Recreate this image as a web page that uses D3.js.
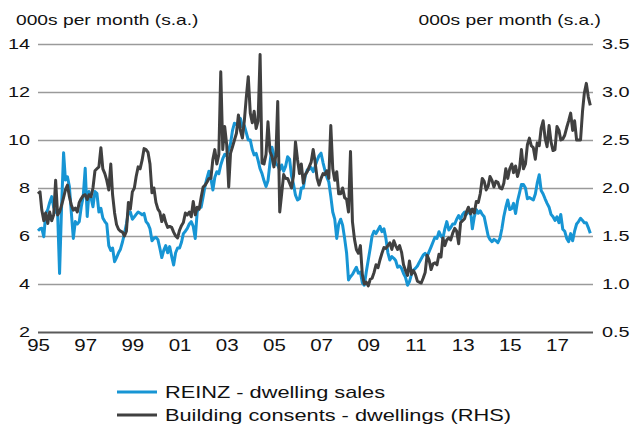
<!DOCTYPE html>
<html>
<head>
<meta charset="utf-8">
<script src="https://cdn.jsdelivr.net/npm/d3@7"></script>
<style>
  html, body { margin: 0; padding: 0; background: #fff; }
  svg { display: block; }
  text { font-family: "Liberation Sans", Arial, Helvetica, sans-serif; fill: #111; }
</style>
</head>
<body>
<script>
// Monthly series, January 1995 onward
const startYear = 1995;
const startMonth = 0;

// REINZ dwelling sales, 000s per month (s.a.), left axis
const reinzSales = [
  6.22, 6.30, 6.32, 5.97, 6.94, 7.10, 7.40, 7.64, 7.20, 7.00, 6.94, 4.44,
  7.20, 9.47, 8.33, 8.47, 8.06, 6.94, 5.90, 6.60, 6.50, 6.60, 7.22, 7.64,
  8.82, 6.81, 7.85, 7.60, 7.22, 7.85, 7.78, 7.00, 7.15, 6.75, 6.60, 6.50,
  5.60, 5.40, 5.50, 4.93, 5.10, 5.30, 5.45, 5.75, 6.10, 6.50, 7.00, 7.00,
  6.70, 6.80, 6.90, 7.00, 6.95, 6.88, 6.94, 6.60, 6.50, 6.30, 5.80, 5.90,
  5.95, 5.85, 5.50, 5.10, 5.40, 5.60, 5.30, 5.56, 5.15, 4.79, 5.30, 5.50,
  5.50, 5.75, 6.10, 6.20, 6.32, 6.50, 6.60, 6.40, 5.90, 7.00, 7.20, 7.20,
  7.64, 8.10, 8.40, 8.70, 8.40, 7.92, 8.45, 8.68, 8.60, 8.96, 9.22, 9.40,
  9.35, 9.60, 9.85, 10.40, 10.70, 10.65, 10.60, 10.90, 10.55, 10.60, 10.30, 10.00,
  10.00, 9.60, 9.38, 9.44, 9.15, 8.80, 8.60, 8.30, 8.06, 8.30, 9.03, 9.70,
  9.35, 9.00, 8.95, 8.75, 8.96, 8.70, 8.90, 9.30, 9.20, 8.50, 8.15, 7.70,
  7.50, 7.55, 8.00, 8.00, 8.50, 8.75, 8.78, 8.85, 8.68, 8.90, 9.15, 9.35,
  9.45, 9.05, 8.75, 8.45, 8.25, 7.65, 7.00, 6.70, 5.90, 6.50, 6.70, 6.45,
  5.90, 5.28, 4.17, 4.30, 4.40, 4.55, 4.70, 4.45, 4.50, 4.05, 3.95, 4.50,
  5.00, 5.50, 6.00, 6.20, 6.10, 6.25, 6.40, 6.18, 6.30, 5.90, 5.30, 5.00,
  5.14, 5.07, 4.98, 4.70, 4.75, 4.65, 4.44, 4.28, 3.95, 4.10, 4.40, 4.58,
  4.65, 4.75, 4.90, 5.05, 5.20, 5.28, 5.15, 5.35, 5.55, 5.75, 5.95, 5.90,
  6.18, 6.00, 5.90, 6.30, 6.60, 6.25, 6.35, 6.50, 6.50, 6.70, 6.85, 6.70,
  6.90, 7.00, 6.90, 7.00, 7.10, 6.30, 6.80, 7.10, 6.95, 7.05, 6.90, 6.80,
  6.40, 6.00, 5.85, 5.76, 5.86, 5.80, 5.72, 5.90, 6.30, 6.81, 7.20, 7.50,
  7.10, 7.15, 7.36, 6.94, 7.45, 7.80, 8.15, 8.15, 8.00, 7.55, 7.60, 7.55,
  7.50, 7.75, 8.20, 8.55, 7.90, 7.75, 7.55, 7.36, 7.20, 6.90, 6.80, 6.65,
  6.80, 6.55, 6.90, 6.28, 6.20, 5.90, 5.76, 6.10, 5.80, 6.20, 6.50, 6.60,
  6.74, 6.65, 6.55, 6.55, 6.35, 6.11
];

// Building consents for dwellings, 000s per month (s.a.), right axis
const buildingConsents = [
  1.94, 1.96, 1.77, 1.66, 1.74, 1.63, 1.75, 1.66, 1.72, 2.08, 1.72, 1.75,
  1.82, 1.90, 1.98, 2.03, 1.91, 1.82, 1.77, 1.79, 1.75, 1.85, 1.89, 1.92,
  1.93, 1.88, 1.93, 1.91, 2.00, 2.18, 2.20, 2.22, 2.42, 2.20, 2.15, 2.08,
  1.98, 2.25, 1.93, 1.74, 1.62, 1.57, 1.55, 1.54, 1.50, 1.55, 1.85, 1.78,
  1.96, 2.00, 2.12, 2.22, 2.20, 2.29, 2.41, 2.40, 2.37, 2.25, 1.95, 2.00,
  1.85, 1.78, 1.75, 1.65, 1.72, 1.64, 1.59, 1.60, 1.59, 1.54, 1.50, 1.48,
  1.56, 1.61, 1.64, 1.74, 1.72, 1.75, 1.70, 1.86, 1.72, 1.80, 1.78, 1.90,
  2.01, 2.03, 2.06, 2.10, 2.10, 2.30, 2.40, 2.25, 2.35, 3.21, 2.40, 2.64,
  2.45, 2.01, 2.36, 2.43, 2.50, 2.57, 2.76, 2.60, 2.52, 2.70, 2.95, 3.16,
  2.78, 2.68, 2.80, 2.62, 2.70, 3.39, 2.26, 2.25, 2.35, 2.69, 2.38, 2.33,
  2.22, 2.34, 2.90, 1.75, 1.94, 2.14, 2.10, 2.10, 2.05, 2.00, 2.13, 2.48,
  2.30, 2.15, 2.25, 2.05, 2.14, 2.17, 2.22, 2.27, 2.40, 2.27, 2.10, 2.03,
  2.10, 2.15, 2.14, 2.18, 2.10, 2.65, 2.20, 2.08, 2.17, 1.94, 1.94, 2.00,
  1.90, 1.88, 1.75, 2.38, 1.65, 1.47, 1.36, 1.32, 1.40, 1.10, 1.00, 1.02,
  0.98, 1.05, 1.06, 1.12, 1.20, 1.17, 1.25, 1.32, 1.38, 1.37, 1.40, 1.43,
  1.36, 1.45, 1.40, 1.36, 1.40, 1.33, 1.20, 1.14, 1.09, 1.24, 1.10, 1.14,
  1.10, 1.03, 1.02, 1.01, 1.06, 1.12, 1.30, 1.25, 1.15, 1.21, 1.22, 1.20,
  1.31, 1.28, 1.48, 1.40, 1.46, 1.48, 1.46, 1.53, 1.58, 1.55, 1.42, 1.64,
  1.66, 1.68, 1.75, 1.80, 1.73, 1.78, 1.74, 1.86, 1.85, 1.94, 2.10, 2.07,
  1.98, 2.02, 2.12, 2.08, 2.01, 2.07, 2.06, 2.00, 1.99, 2.05, 2.20, 2.10,
  2.20, 2.25, 2.16, 2.23, 2.12, 2.20, 2.40, 2.20, 2.25, 2.45, 2.52, 2.44,
  2.42, 2.30, 2.47, 2.44, 2.62, 2.70, 2.52, 2.43, 2.65, 2.48, 2.39, 2.40,
  2.64, 2.60, 2.50, 2.51, 2.55, 2.63, 2.70, 2.78, 2.60, 2.70, 2.50, 2.50,
  2.50, 2.80, 2.99, 3.09, 2.95, 2.86
];

const leftTicks = [2, 4, 6, 8, 10, 12, 14];
const rightTicks = [0.5, 1.0, 1.5, 2.0, 2.5, 3.0, 3.5];
const tickYears = [1995, 1997, 1999, 2001, 2003, 2005, 2007, 2009, 2011, 2013, 2015, 2017];

const unitsLabel = "000s per month (s.a.)";
const seriesNames = ["REINZ - dwelling sales", "Building consents - dwellings (RHS)"];
const colors = { sales: "#1795d4", consents: "#404040" };

const W = 635, H = 428;
const plot = { left: 38, right: 593, top: 44, bottom: 332 };
const STRETCH = 1.28; // text in this chart is set wide

const monthDate = i => new Date(startYear, startMonth + i, 1);

const svg = d3.select("body").append("svg")
  .attr("width", W).attr("height", H);

const x = d3.scaleTime()
  .domain([new Date(1995, 0, 1), new Date(2018, 6, 13)])
  .range([plot.left, plot.right]);
const yL = d3.scaleLinear().domain([2, 14]).range([plot.bottom, plot.top]);
const yR = d3.scaleLinear().domain([0.5, 3.5]).range([plot.bottom, plot.top]);

function widen(sel) {
  sel.each(function () {
    const w = this.getComputedTextLength();
    d3.select(this).attr("textLength", w * STRETCH).attr("lengthAdjust", "spacingAndGlyphs");
  });
}

// left axis with horizontal gridlines
const gL = svg.append("g")
  .attr("transform", `translate(${plot.left},0)`)
  .call(d3.axisLeft(yL).tickValues(leftTicks).tickFormat(d3.format("d"))
    .tickSize(-(plot.right - plot.left)).tickPadding(8));
gL.select(".domain").remove();
gL.selectAll(".tick line")
  .attr("stroke", d => d === 2 ? "#5a5a5a" : "#9a9a9a")
  .attr("stroke-width", d => d === 2 ? 2 : 1.6);
gL.selectAll(".tick text")
  .attr("font-size", 15.5).attr("dy", "0.26em").style("fill", "#111");

// right axis labels
const gR = svg.append("g")
  .attr("transform", `translate(${plot.right},0)`)
  .call(d3.axisRight(yR).tickValues(rightTicks).tickFormat(d3.format(".1f"))
    .tickSize(0).tickPadding(9));
gR.select(".domain").remove();
gR.selectAll(".tick text")
  .attr("font-size", 15.5).attr("dy", "0.26em").style("fill", "#111");

// bottom axis labels
const gB = svg.append("g")
  .attr("transform", `translate(0,${plot.bottom})`)
  .call(d3.axisBottom(x).tickValues(tickYears.map(y => new Date(y, 0, 1)))
    .tickFormat(d3.timeFormat("%y")).tickSize(0).tickPadding(8));
gB.select(".domain").remove();
gB.selectAll(".tick text")
  .attr("font-size", 16).style("fill", "#111");

// series lines
const lineL = d3.line().x((d, i) => x(monthDate(i))).y(d => yL(d));
const lineR = d3.line().x((d, i) => x(monthDate(i))).y(d => yR(d));

svg.append("path")
  .datum(reinzSales)
  .attr("fill", "none")
  .attr("stroke", colors.sales)
  .attr("stroke-width", 3)
  .attr("stroke-linejoin", "round")
  .attr("d", lineL);

svg.append("path")
  .datum(buildingConsents)
  .attr("fill", "none")
  .attr("stroke", colors.consents)
  .attr("stroke-width", 3)
  .attr("stroke-linejoin", "round")
  .attr("d", lineR);

// unit titles above each axis
svg.append("text").attr("class", "unit")
  .attr("x", 16).attr("y", 25).attr("font-size", 15)
  .text(unitsLabel);
svg.append("text").attr("class", "unit")
  .attr("x", 601).attr("y", 25).attr("font-size", 15)
  .attr("text-anchor", "end")
  .text(unitsLabel);

// legend
const legend = svg.append("g").attr("transform", "translate(117,0)");
const legendRows = [
  { name: seriesNames[0], color: colors.sales, y: 392 },
  { name: seriesNames[1], color: colors.consents, y: 415 }
];
legendRows.forEach(r => {
  legend.append("line")
    .attr("x1", 0).attr("x2", 40).attr("y1", r.y).attr("y2", r.y)
    .attr("stroke", r.color).attr("stroke-width", 3);
  legend.append("text")
    .attr("x", 48).attr("y", r.y).attr("dy", "0.36em")
    .attr("font-size", 17)
    .text(r.name);
});

widen(svg.selectAll("text"));
</script>
</body>
</html>
